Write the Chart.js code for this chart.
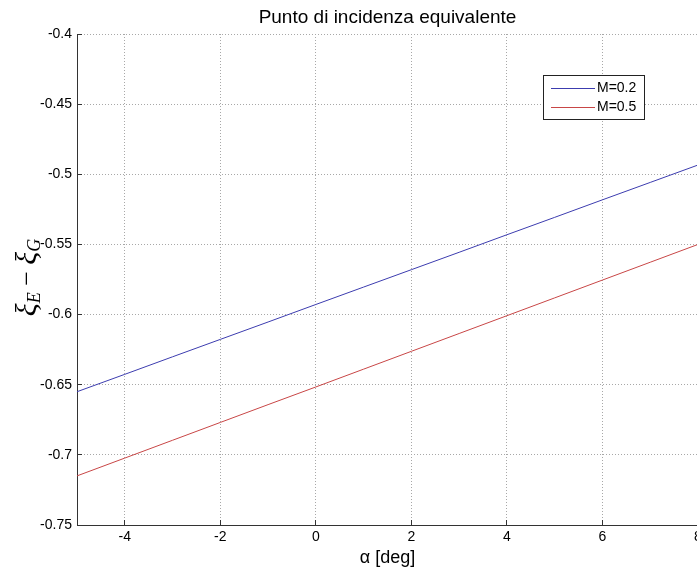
<!DOCTYPE html>
<html>
<head>
<meta charset="utf-8">
<script src="https://cdn.jsdelivr.net/npm/chart.js@4"></script>
<style>
  html, body { margin: 0; padding: 0; background: #fff; overflow: hidden; }
  #wrap { width: 697px; height: 572px; overflow: hidden; }
</style>
</head>
<body>
<div id="wrap"><canvas id="grafico" width="720" height="572"></canvas></div>
<script>
// angolo di incidenza [deg]
const alpha = [-5, -4, -3, -2, -1, 0, 1, 2, 3, 4, 5, 6, 7, 8];
// xi_E - xi_G per i due numeri di Mach
const xiM02 = [-0.6550, -0.6426, -0.6301, -0.6177, -0.6053, -0.5928, -0.5804, -0.5680, -0.5556, -0.5431, -0.5307, -0.5182, -0.5058, -0.4934];
const xiM05 = [-0.7150, -0.7023, -0.6896, -0.6769, -0.6642, -0.6516, -0.6389, -0.6262, -0.6135, -0.6008, -0.5881, -0.5754, -0.5627, -0.5500];
const serie = ['M=0.2', 'M=0.5'];

const xTicks = [-4, -2, 0, 2, 4, 6, 8];
const yTicks = [-0.75, -0.7, -0.65, -0.6, -0.55, -0.5, -0.45, -0.4];

const FONT = "'Liberation Sans', Arial, Helvetica, sans-serif";

function punti(xs, ys) {
    return xs.map((v, i) => ({ x: v, y: ys[i] }));
}

function allinea(p) {
    return Math.round(p - 0.5) + 0.5;
}

// tacche rivolte verso l'interno, come nei grafici MATLAB
const tacche = {
    id: 'tacche',
    afterDraw(chart) {
        const ctx = chart.ctx;
        const a = chart.chartArea;
        const sx = chart.scales.x, sy = chart.scales.y;
        ctx.save();
        ctx.strokeStyle = '#333';
        ctx.lineWidth = 1;
        ctx.beginPath();
        sx.ticks.forEach(t => {
            const px = allinea(sx.getPixelForValue(t.value));
            ctx.moveTo(px, a.bottom);
            ctx.lineTo(px, a.bottom - 5);
        });
        sy.ticks.forEach(t => {
            const py = allinea(sy.getPixelForValue(t.value));
            ctx.moveTo(a.left, py);
            ctx.lineTo(a.left + 5, py);
        });
        ctx.stroke();
        ctx.restore();
    }
};

// legenda con riquadro dentro l'area del grafico
const legenda = {
    id: 'legenda',
    afterDraw(chart) {
        const ctx = chart.ctx;
        const a = chart.chartArea;
        const w = 101, h = 44;
        const bx = a.right - 54 - w;
        const by = a.top + 41;
        ctx.save();
        ctx.fillStyle = '#fff';
        ctx.fillRect(bx, by, w, h);
        ctx.strokeStyle = '#222';
        ctx.lineWidth = 1;
        ctx.strokeRect(bx + 0.5, by + 0.5, w, h);
        ctx.font = '14px ' + FONT;
        ctx.textBaseline = 'middle';
        chart.data.datasets.forEach((ds, i) => {
            const ry = Math.round(by + 13 + i * 19) + 0.5;
            ctx.strokeStyle = ds.borderColor;
            ctx.beginPath();
            ctx.moveTo(bx + 8, ry);
            ctx.lineTo(bx + 52, ry);
            ctx.stroke();
            ctx.fillStyle = '#000';
            ctx.fillText(ds.label, bx + 54, ry);
        });
        ctx.restore();
    }
};

// etichetta dell'asse y con pedici: xi_E - xi_G
const etichettaY = {
    id: 'etichettaY',
    afterDraw(chart) {
        const ctx = chart.ctx;
        const a = chart.chartArea;
        const greca = 'italic 30px "Liberation Serif", "Times New Roman", serif';
        const pedice = 'italic 18px "Liberation Serif", "Times New Roman", serif';
        const parti = [
            { t: 'ξ', f: greca, dy: 0 },
            { t: 'E', f: pedice, dy: 7 },
            { t: ' − ', f: '26px "Liberation Serif", serif', dy: 0 },
            { t: 'ξ', f: greca, dy: 0 },
            { t: 'G', f: pedice, dy: 7 }
        ];
        ctx.save();
        let tot = 0;
        parti.forEach(p => { ctx.font = p.f; p.w = ctx.measureText(p.t).width; tot += p.w; });
        ctx.translate(28, (a.top + a.bottom) / 2 - 2);
        ctx.rotate(-Math.PI / 2);
        ctx.fillStyle = '#000';
        ctx.textBaseline = 'middle';
        let x = -tot / 2;
        parti.forEach(p => {
            ctx.font = p.f;
            ctx.fillText(p.t, x, p.dy);
            x += p.w;
        });
        ctx.restore();
    }
};

new Chart(document.getElementById('grafico'), {
    type: 'line',
    data: {
        datasets: [
            { label: serie[0], data: punti(alpha, xiM02), borderColor: 'rgb(60, 60, 175)' },
            { label: serie[1], data: punti(alpha, xiM05), borderColor: 'rgb(200, 70, 70)' }
        ]
    },
    options: {
        responsive: false,
        animation: false,
        layout: { padding: { left: 0, right: 22, top: 0, bottom: 0 } },
        elements: {
            line: { borderWidth: 1, tension: 0 },
            point: { radius: 0 }
        },
        plugins: {
            legend: { display: false },
            tooltip: { enabled: false },
            title: {
                display: true,
                fullSize: false,
                text: 'Punto di incidenza equivalente',
                color: '#000',
                font: { family: FONT, size: 19, weight: 'normal', lineHeight: 1.2 },
                padding: { top: 6, bottom: 5.2 }
            }
        },
        scales: {
            x: {
                type: 'linear',
                min: -5,
                max: 8,
                afterBuildTicks: s => { s.ticks = xTicks.map(v => ({ value: v })); },
                afterFit: s => { s.height = 47; s.paddingLeft = 0; s.paddingRight = 0; },
                grid: { color: '#a8a8a8', drawTicks: false, lineWidth: 1 },
                border: { display: true, color: '#333', width: 1, dash: [1, 2] },
                ticks: {
                    color: '#000',
                    padding: 4,
                    maxRotation: 0,
                    font: { family: FONT, size: 14 },
                    callback: v => String(v)
                },
                title: {
                    display: true,
                    text: 'α [deg]',
                    color: '#000',
                    font: { family: FONT, size: 18 },
                    padding: { top: 0, bottom: 3 }
                }
            },
            y: {
                type: 'linear',
                min: -0.75,
                max: -0.4,
                afterBuildTicks: s => { s.ticks = yTicks.map(v => ({ value: v })); },
                afterFit: s => { s.width = 77; s.paddingTop = 0; s.paddingBottom = 0; },
                grid: { color: '#a8a8a8', drawTicks: false, lineWidth: 1 },
                border: { display: true, color: '#333', width: 1, dash: [1, 2] },
                ticks: {
                    color: '#000',
                    padding: 5,
                    font: { family: FONT, size: 14 },
                    callback: v => String(v)
                }
            }
        }
    },
    plugins: [tacche, legenda, etichettaY]
});
</script>
</body>
</html>
